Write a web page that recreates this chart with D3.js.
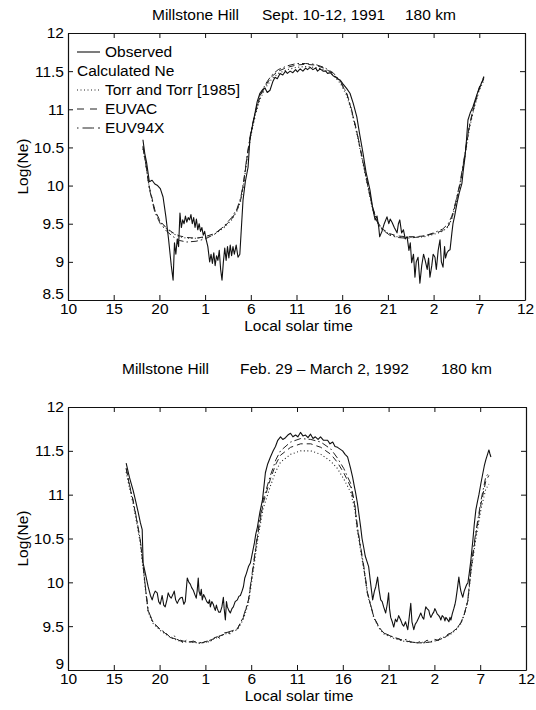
<!DOCTYPE html>
<html>
<head>
<meta charset="utf-8">
<script src="https://cdn.jsdelivr.net/npm/d3@7"></script>
<style>
  body { margin: 0; background: #fff; }
  svg { display: block; font-family: "Liberation Sans", Arial, Helvetica, sans-serif; }
</style>
</head>
<body>
<div id="chart"></div>
<script>
// x is hours counted on from 10 LT of the first day (so 25 = 1 LT, 60 = 12 LT)
const xTicks = [10, 15, 20, 25, 30, 35, 40, 45, 50, 55, 60];
const xTickLabels = ["10", "15", "20", "1", "6", "11", "16", "21", "2", "7", "12"];
const sepYTicks = [8.5, 9, 9.5, 10, 10.5, 11, 11.5, 12];
const febYTicks = [9, 9.5, 10, 10.5, 11, 11.5, 12];

// Sept. 10-12, 1991
const sepObserved = [
  [18.2,10.6],[18.4,10.42],[18.6,10.3],[18.9,10.05],[19.2,10.07],[19.5,10.02],[19.8,10.0],[20.1,9.96],
  [20.4,9.85],[20.7,9.6],[21.0,9.3],[21.3,8.95],[21.5,8.76],[21.65,9.25],[21.8,9.1],[21.95,9.3],
  [22.1,9.2],[22.25,9.64],[22.4,9.45],[22.55,9.55],[22.7,9.5],[22.85,9.6],[23.0,9.52],[23.15,9.58],
  [23.3,9.55],[23.45,9.62],[23.6,9.5],[23.75,9.58],[23.9,9.45],[24.05,9.56],[24.2,9.42],[24.35,9.5],
  [24.5,9.4],[24.65,9.45],[24.8,9.35],[24.95,9.4],[25.1,9.3],[25.3,9.2],[25.5,9.0],[25.65,9.1],
  [25.8,8.98],[25.95,9.12],[26.1,8.95],[26.25,9.08],[26.4,9.02],[26.55,9.15],[26.7,8.9],[26.85,8.76],
  [27.0,9.0],[27.15,9.18],[27.3,9.02],[27.45,9.2],[27.6,9.05],[27.75,9.22],[27.9,9.08],[28.05,9.2],
  [28.2,9.1],[28.4,9.22],[28.6,9.06],[28.8,9.1],[29.15,9.81],[29.4,10.05],[29.7,10.24],[29.9,10.6],
  [30.2,10.8],[30.46,10.95],[30.7,11.1],[31.0,11.21],[31.3,11.26],[31.55,11.28],[31.8,11.22],[32.1,11.25],
  [32.4,11.36],[32.65,11.42],[32.9,11.4],[33.2,11.47],[33.5,11.45],[33.8,11.5],[34.0,11.47],[34.3,11.5],
  [34.6,11.48],[34.9,11.52],[35.1,11.49],[35.4,11.53],[35.7,11.5],[36.0,11.54],[36.2,11.52],[36.5,11.55],
  [36.8,11.52],[37.1,11.54],[37.3,11.5],[37.6,11.53],[37.9,11.5],[38.2,11.5],[38.4,11.47],[38.7,11.48],
  [39.0,11.44],[39.3,11.42],[39.5,11.4],[39.8,11.38],[40.1,11.33],[40.5,11.27],[40.85,11.21],[41.2,11.08],
  [41.6,10.9],[41.9,10.68],[42.27,10.43],[42.6,10.18],[43.04,9.94],[43.37,9.68],[43.6,9.55],[43.81,9.6],
  [44.0,9.45],[44.1,9.33],[44.35,9.4],[44.6,9.5],[44.9,9.59],[45.1,9.5],[45.25,9.56],[45.45,9.52],
  [45.7,9.45],[46.0,9.38],[46.15,9.5],[46.3,9.55],[46.5,9.38],[46.7,9.42],[46.9,9.3],[47.1,9.33],
  [47.3,9.15],[47.45,9.25],[47.6,8.99],[47.8,9.1],[47.96,8.8],[48.1,9.0],[48.3,9.06],[48.5,8.72],
  [48.7,8.95],[48.9,9.1],[49.06,9.03],[49.3,8.9],[49.45,9.05],[49.6,8.8],[49.8,8.95],[49.95,9.1],
  [50.15,9.06],[50.3,8.9],[50.5,9.15],[50.7,9.29],[50.85,9.0],[51.03,8.93],[51.2,9.2],[51.3,9.05],
  [51.47,9.12],[51.65,9.15],[51.8,9.16],[52.0,9.38],[52.12,9.5],[52.3,9.6],[52.56,9.77],[52.8,9.9],
  [53.1,10.03],[53.25,10.2],[53.43,10.37],[53.6,10.6],[53.76,10.86],[54.0,10.95],[54.3,11.03],[54.7,11.18],
  [55.08,11.3],[55.3,11.36],[55.5,11.43]
];
const sepTorr = [
  [18.2,10.48],[18.5,10.28],[18.9,9.97],[19.5,9.67],[20.1,9.52],[20.8,9.43],[21.5,9.37],[22.2,9.33],
  [23.0,9.31],[24.0,9.31],[25.0,9.32],[26.0,9.36],[27.0,9.44],[27.9,9.55],[28.5,9.67],[28.9,9.8],
  [29.2,10.0],[29.6,10.35],[30.0,10.65],[30.5,10.92],[31.0,11.13],[31.6,11.28],[32.3,11.4],[33.0,11.47],
  [34.0,11.52],[35.0,11.55],[36.0,11.56],[37.0,11.55],[38.0,11.52],[39.0,11.45],[39.8,11.34],[40.5,11.18],
  [41.0,10.98],[41.6,10.68],[42.2,10.33],[42.8,9.98],[43.3,9.7],[43.8,9.52],[44.4,9.42],[45.2,9.36],
  [46.0,9.33],[47.0,9.32],[48.0,9.32],[49.0,9.33],[50.0,9.36],[51.0,9.4],[51.6,9.46],[52.0,9.57],
  [52.4,9.74],[52.9,10.0],[53.4,10.36],[53.9,10.74],[54.4,11.0],[55.0,11.25],[55.5,11.38]
];
const sepEuvac = [
  [18.2,10.52],[18.5,10.3],[18.9,9.98],[19.5,9.68],[20.1,9.53],[20.8,9.44],[21.5,9.38],[22.2,9.34],
  [23.0,9.32],[24.0,9.31],[25.0,9.33],[26.0,9.37],[27.0,9.45],[27.9,9.56],[28.5,9.68],[28.9,9.82],
  [29.2,10.02],[29.6,10.38],[30.0,10.68],[30.5,10.95],[31.0,11.16],[31.6,11.31],[32.3,11.43],[33.0,11.5],
  [34.0,11.55],[35.0,11.58],[36.0,11.59],[37.0,11.58],[38.0,11.54],[39.0,11.47],[39.8,11.36],[40.5,11.2],
  [41.0,11.0],[41.6,10.7],[42.2,10.35],[42.8,10.0],[43.3,9.72],[43.8,9.53],[44.4,9.43],[45.2,9.37],
  [46.0,9.34],[47.0,9.33],[48.0,9.33],[49.0,9.34],[50.0,9.37],[51.0,9.41],[51.6,9.47],[52.0,9.58],
  [52.4,9.76],[52.9,10.02],[53.4,10.38],[53.9,10.76],[54.4,11.02],[55.0,11.27],[55.5,11.4]
];
const sepEuv94x = [
  [18.2,10.5],[18.5,10.29],[18.9,9.96],[19.5,9.65],[20.1,9.5],[20.8,9.4],[21.5,9.33],[22.2,9.28],
  [23.0,9.26],[24.0,9.27],[25.0,9.3],[26.0,9.36],[27.0,9.46],[27.9,9.58],[28.5,9.7],[28.9,9.84],
  [29.2,10.04],[29.6,10.4],[30.0,10.7],[30.5,10.97],[31.0,11.18],[31.6,11.33],[32.3,11.45],[33.0,11.52],
  [34.0,11.57],[35.0,11.6],[36.0,11.6],[37.0,11.59],[38.0,11.55],[39.0,11.48],[39.8,11.37],[40.5,11.21],
  [41.0,11.01],[41.6,10.71],[42.2,10.36],[42.8,10.01],[43.3,9.73],[43.8,9.54],[44.4,9.42],[45.2,9.35],
  [46.0,9.32],[47.0,9.31],[48.0,9.32],[49.0,9.34],[50.0,9.38],[51.0,9.43],[51.6,9.5],[52.0,9.6],
  [52.4,9.78],[52.9,10.04],[53.4,10.4],[53.9,10.78],[54.4,11.04],[55.0,11.29],[55.5,11.42]
];

// Feb. 29 - March 2, 1992
const febObserved = [
  [16.35,11.36],[16.7,11.2],[17.11,11.05],[17.4,10.92],[17.66,10.8],[17.9,10.68],[18.1,10.6],[18.2,10.22],
  [18.45,10.1],[18.75,9.95],[19.0,9.85],[19.19,9.8],[19.35,9.86],[19.52,9.9],[19.74,9.88],[19.9,9.78],
  [20.07,9.75],[20.28,9.85],[20.45,9.74],[20.61,9.72],[20.8,9.8],[20.94,9.88],[21.1,9.84],[21.27,9.82],
  [21.45,9.86],[21.6,9.9],[21.75,9.8],[21.93,9.76],[22.1,9.8],[22.25,9.82],[22.47,9.83],[22.65,9.75],
  [22.8,9.78],[23.02,10.05],[23.2,10.0],[23.35,9.98],[23.5,9.94],[23.68,9.91],[23.85,9.86],[24.0,9.82],
  [24.1,9.9],[24.22,10.05],[24.3,9.9],[24.44,9.85],[24.55,9.92],[24.66,9.8],[24.8,9.86],[24.99,9.82],
  [25.15,9.78],[25.32,9.76],[25.45,9.8],[25.54,9.72],[25.7,9.78],[25.86,9.75],[26.0,9.7],[26.08,9.68],
  [26.2,9.74],[26.3,9.7],[26.45,9.66],[26.63,9.66],[26.8,9.72],[26.96,9.83],[27.05,9.7],[27.18,9.57],
  [27.3,9.78],[27.4,9.72],[27.55,9.68],[27.72,9.65],[27.9,9.7],[28.05,9.72],[28.25,9.78],[28.49,9.8],
  [28.65,9.84],[28.82,9.85],[29.0,9.9],[29.15,9.95],[29.3,10.05],[29.47,10.1],[29.7,10.18],[29.91,10.22],
  [30.1,10.32],[30.35,10.45],[30.5,10.55],[30.68,10.63],[30.95,10.8],[31.23,10.94],[31.4,11.1],[31.55,11.25],
  [31.8,11.35],[32.1,11.43],[32.4,11.5],[32.65,11.55],[32.9,11.62],[33.2,11.66],[33.45,11.63],[33.74,11.65],
  [34.0,11.68],[34.29,11.7],[34.55,11.66],[34.84,11.68],[35.1,11.66],[35.38,11.71],[35.65,11.67],[35.93,11.68],
  [36.2,11.65],[36.48,11.69],[36.75,11.64],[37.0,11.66],[37.3,11.63],[37.57,11.66],[37.9,11.62],[38.34,11.62],
  [38.6,11.58],[38.9,11.6],[39.15,11.55],[39.43,11.54],[39.7,11.52],[39.98,11.5],[40.25,11.46],[40.52,11.43],
  [40.7,11.36],[40.85,11.3],[41.07,11.2],[41.25,11.1],[41.4,11.02],[41.6,10.9],[41.73,10.8],[41.95,10.63],
  [42.1,10.5],[42.28,10.4],[42.45,10.3],[42.6,10.25],[42.82,10.18],[43.0,10.02],[43.26,9.8],[43.45,9.9],
  [43.6,9.95],[43.8,10.06],[43.95,9.92],[44.14,9.8],[44.3,9.78],[44.46,9.72],[44.68,9.65],[44.85,9.75],
  [45.0,9.88],[45.1,9.7],[45.23,9.6],[45.4,9.55],[45.56,9.49],[45.75,9.58],[45.9,9.55],[46.1,9.62],
  [46.32,9.57],[46.5,9.52],[46.65,9.5],[46.85,9.55],[47.09,9.46],[47.25,9.6],[47.42,9.76],[47.55,9.55],
  [47.75,9.46],[47.9,9.52],[48.08,9.55],[48.3,9.6],[48.51,9.65],[48.7,9.6],[48.84,9.58],[48.95,9.66],
  [49.06,9.72],[49.2,9.7],[49.39,9.68],[49.5,9.63],[49.61,9.6],[49.8,9.64],[49.93,9.66],[50.05,9.7],
  [50.15,9.68],[50.3,9.64],[50.48,9.62],[50.6,9.6],[50.7,9.57],[50.85,9.62],[51.03,9.6],[51.15,9.56],
  [51.25,9.6],[51.4,9.58],[51.58,9.55],[51.7,9.6],[51.8,9.57],[51.95,9.64],[52.12,9.7],[52.25,9.75],
  [52.34,9.8],[52.5,9.92],[52.67,10.06],[52.8,9.95],[52.89,9.9],[53.0,9.86],[53.1,9.83],[53.25,9.9],
  [53.43,9.95],[53.55,9.98],[53.65,9.99],[53.8,10.1],[53.98,10.25],[54.1,10.38],[54.2,10.48],[54.35,10.66],
  [54.53,10.83],[54.7,10.92],[54.86,11.0],[55.08,11.13],[55.3,11.25],[55.45,11.33],[55.62,11.4],[55.8,11.46],
  [55.95,11.51],[56.05,11.47],[56.17,11.43]
];
const febTorr = [
  [16.35,11.26],[16.7,11.08],[17.1,10.9],[17.5,10.68],[17.9,10.44],[18.2,10.16],[18.45,9.92],[18.75,9.66],
  [19.3,9.53],[20.1,9.45],[20.6,9.41],[21.2,9.37],[21.9,9.34],[22.6,9.32],[23.3,9.32],[24.1,9.31],
  [24.6,9.31],[25.2,9.32],[25.8,9.35],[26.3,9.37],[26.9,9.4],[27.4,9.42],[28.0,9.44],[28.5,9.46],
  [29.15,9.58],[29.7,9.76],[30.1,10.04],[30.7,10.48],[31.3,10.84],[32.1,11.1],[32.7,11.27],[33.2,11.37],
  [34.3,11.46],[35.4,11.5],[36.5,11.5],[37.6,11.46],[38.7,11.38],[39.4,11.3],[40.1,11.18],[40.85,11.03],
  [41.3,10.84],[41.6,10.58],[42.3,10.14],[42.7,9.86],[43.4,9.59],[44.0,9.47],[44.5,9.41],[45.6,9.36],
  [46.5,9.33],[47.4,9.32],[48.1,9.31],[48.8,9.31],[49.6,9.32],[50.4,9.34],[51.1,9.37],[51.8,9.41],
  [52.4,9.46],[52.9,9.53],[53.3,9.64],[53.65,9.78],[54.0,10.12],[54.5,10.48],[55.1,10.84],[55.6,11.06],
  [55.95,11.12]
];
const febEuvac = [
  [16.35,11.3],[16.7,11.11],[17.1,10.93],[17.5,10.71],[17.9,10.47],[18.2,10.19],[18.45,9.94],[18.75,9.67],
  [19.3,9.54],[20.1,9.46],[20.6,9.42],[21.2,9.37],[21.9,9.35],[22.6,9.33],[23.3,9.32],[24.1,9.32],
  [24.6,9.31],[25.2,9.33],[25.8,9.35],[26.3,9.38],[26.9,9.4],[27.4,9.43],[28.0,9.45],[28.5,9.47],
  [29.15,9.6],[29.7,9.79],[30.1,10.08],[30.7,10.53],[31.3,10.9],[32.1,11.18],[32.7,11.35],[33.2,11.45],
  [34.3,11.54],[35.4,11.58],[36.5,11.58],[37.6,11.54],[38.7,11.46],[39.4,11.37],[40.1,11.25],[40.85,11.09],
  [41.3,10.88],[41.6,10.61],[42.3,10.16],[42.7,9.87],[43.4,9.6],[44.0,9.48],[44.5,9.42],[45.6,9.37],
  [46.5,9.34],[47.4,9.32],[48.1,9.31],[48.8,9.31],[49.6,9.32],[50.4,9.34],[51.1,9.37],[51.8,9.42],
  [52.4,9.47],[52.9,9.54],[53.3,9.65],[53.65,9.79],[54.0,10.15],[54.5,10.53],[55.1,10.9],[55.6,11.15],
  [55.95,11.22]
];
const febEuv94x = [
  [16.35,11.3],[16.7,11.12],[17.1,10.94],[17.5,10.72],[17.9,10.48],[18.2,10.2],[18.45,9.95],[18.75,9.68],
  [19.3,9.54],[20.1,9.46],[20.6,9.43],[21.2,9.37],[21.6,9.39],[21.9,9.35],[22.3,9.33],[22.6,9.31],
  [22.9,9.34],[23.3,9.32],[23.7,9.33],[24.1,9.31],[24.6,9.3],[24.9,9.32],[25.2,9.33],[25.5,9.31],
  [25.8,9.36],[26.3,9.38],[26.6,9.36],[26.9,9.42],[27.4,9.43],[27.7,9.41],[28.0,9.45],[28.5,9.47],
  [29.15,9.61],[29.7,9.8],[30.1,10.1],[30.7,10.56],[31.3,10.94],[32.1,11.22],[32.7,11.4],[33.2,11.5],
  [34.3,11.6],[35.4,11.64],[36.5,11.63],[37.6,11.6],[38.7,11.52],[39.4,11.42],[40.1,11.3],[40.85,11.13],
  [41.3,10.9],[41.6,10.63],[42.3,10.18],[42.7,9.88],[43.4,9.6],[44.0,9.48],[44.5,9.42],[45.0,9.4],
  [45.6,9.37],[46.0,9.36],[46.5,9.34],[47.0,9.35],[47.4,9.32],[48.1,9.31],[48.5,9.33],[48.8,9.31],
  [49.2,9.34],[49.6,9.32],[50.0,9.35],[50.4,9.34],[50.8,9.38],[51.1,9.37],[51.5,9.41],[51.8,9.42],
  [52.4,9.47],[52.9,9.54],[53.3,9.65],[53.65,9.8],[54.0,10.18],[54.5,10.56],[55.1,10.94],[55.6,11.2],
  [55.95,11.25]
];

const legendRows = ["Observed", "Calculated Ne", "Torr and Torr [1985]", "EUVAC", "EUV94X"];

const W = 536, H = 710;
const svg = d3.select("#chart").append("svg")
  .attr("width", W)
  .attr("height", H);

// line styles: solid, dotted, dashed, dash-dot
const styles = {
  obs:   { dash: null,          width: 1.1, color: "#111" },
  torr:  { dash: "1,2.5",       width: 1.1, color: "#222" },
  euvac: { dash: "6,4",         width: 1,   color: "#222" },
  euv94: { dash: "7,3,1.5,3",   width: 1,   color: "#222" }
};

function drawPanel(p) {
  const x = d3.scaleLinear().domain([10, 60]).range([p.left, p.right]);
  const y = d3.scaleLinear().domain([p.ymin, 12]).range([p.bottom, p.top]);
  const g = svg.append("g");

  // bottom axis with labels, ticks pointing in
  g.append("g")
    .attr("transform", `translate(0,${p.bottom})`)
    .call(d3.axisBottom(x).tickValues(xTicks).tickSize(-5).tickSizeOuter(0).tickPadding(3)
      .tickFormat((d, i) => xTickLabels[i]));
  g.append("g")
    .attr("transform", `translate(0,${p.top})`)
    .call(d3.axisTop(x).tickValues(xTicks).tickSize(-5).tickSizeOuter(0).tickFormat(""));
  const yAxis = g.append("g")
    .attr("transform", `translate(${p.left},0)`)
    .call(d3.axisLeft(y).tickValues(p.yTicks).tickSize(-5).tickSizeOuter(0).tickPadding(4)
      .tickFormat(d3.format("")));
  g.append("g")
    .attr("transform", `translate(${p.right},0)`)
    .call(d3.axisRight(y).tickValues(p.yTicks).tickSize(-5).tickSizeOuter(0).tickFormat(""));

  g.selectAll(".domain").attr("stroke", "#111").attr("stroke-width", 1.2);
  g.selectAll(".tick line").attr("stroke", "#111").attr("stroke-width", 1);
  g.selectAll(".tick text").attr("font-size", 15.5).attr("fill", "#000")
    .attr("font-family", "'Liberation Sans', Arial, sans-serif");
  // lowest y label sits a little higher, clear of the first x label
  yAxis.selectAll(".tick text").filter(d => d === p.ymin).attr("dy", "-0.08em");

  const line = d3.line().x(d => x(d[0])).y(d => y(d[1]));
  const clip = "clip" + p.id;
  svg.append("clipPath").attr("id", clip).append("rect")
    .attr("x", p.left).attr("y", p.top).attr("width", p.right - p.left).attr("height", p.bottom - p.top);

  const series = [
    [p.torr, styles.torr], [p.euvac, styles.euvac], [p.euv94, styles.euv94], [p.obs, styles.obs]
  ];
  g.append("g").attr("clip-path", `url(#${clip})`)
    .selectAll("path")
    .data(series)
    .join("path")
      .attr("d", d => line(d[0]))
      .attr("fill", "none")
      .attr("stroke", d => d[1].color)
      .attr("stroke-width", d => d[1].width)
      .attr("stroke-dasharray", d => d[1].dash)
      .attr("stroke-linejoin", "round");

  // titles
  g.selectAll(".ttl")
    .data(p.title)
    .join("text")
      .attr("x", d => d[1])
      .attr("y", p.titleY)
      .attr("font-size", 15.5)
      .attr("fill", "#000")
      .text(d => d[0]);

  g.append("text")
    .attr("x", (p.left + p.right) / 2 + 2)
    .attr("y", p.bottom + 31)
    .attr("text-anchor", "middle")
    .attr("font-size", 15.5)
    .attr("fill", "#000")
    .text("Local solar time");

  g.append("text")
    .attr("transform", `translate(28,${(p.top + p.bottom) / 2}) rotate(-90)`)
    .attr("text-anchor", "middle")
    .attr("font-size", 15.5)
    .attr("fill", "#000")
    .text("Log(Ne)");

  return { x, y, g };
}

const sepPanel = drawPanel({
  id: "a", left: 68, right: 525, top: 33, bottom: 300, ymin: 8.5, yTicks: sepYTicks,
  obs: sepObserved, torr: sepTorr, euvac: sepEuvac, euv94: sepEuv94x,
  titleY: 20,
  title: [["Millstone Hill", 152], ["Sept. 10-12, 1991", 262], ["180 km", 405]]
});

drawPanel({
  id: "b", left: 68, right: 526, top: 407, bottom: 670, ymin: 9, yTicks: febYTicks,
  obs: febObserved, torr: febTorr, euvac: febEuvac, euv94: febEuv94x,
  titleY: 374,
  title: [["Millstone Hill", 122], ["Feb. 29 \u2013 March 2, 1992", 240], ["180 km", 441]]
});

// legend in the top panel
const legendY = [52, 71, 90, 109, 128];
const legendStyle = [styles.obs, null, styles.torr, { dash: "7,6", width: 1, color: "#222" }, { dash: "1.5,4,10,0", width: 1, color: "#222" }];
const lg = sepPanel.g.append("g");
lg.selectAll("line")
  .data(legendRows.map((r, i) => i).filter(i => legendStyle[i]))
  .join("line")
    .attr("x1", 77).attr("x2", 100)
    .attr("y1", i => legendY[i]).attr("y2", i => legendY[i])
    .attr("stroke", i => legendStyle[i].color)
    .attr("stroke-width", i => legendStyle[i].width)
    .attr("stroke-dasharray", i => legendStyle[i].dash);
lg.selectAll("text")
  .data(legendRows)
  .join("text")
    .attr("x", (d, i) => i === 1 ? 77 : 105)
    .attr("y", (d, i) => legendY[i] + 5)
    .attr("font-size", 15.5)
    .attr("fill", "#000")
    .text(d => d);
</script>
</body>
</html>
